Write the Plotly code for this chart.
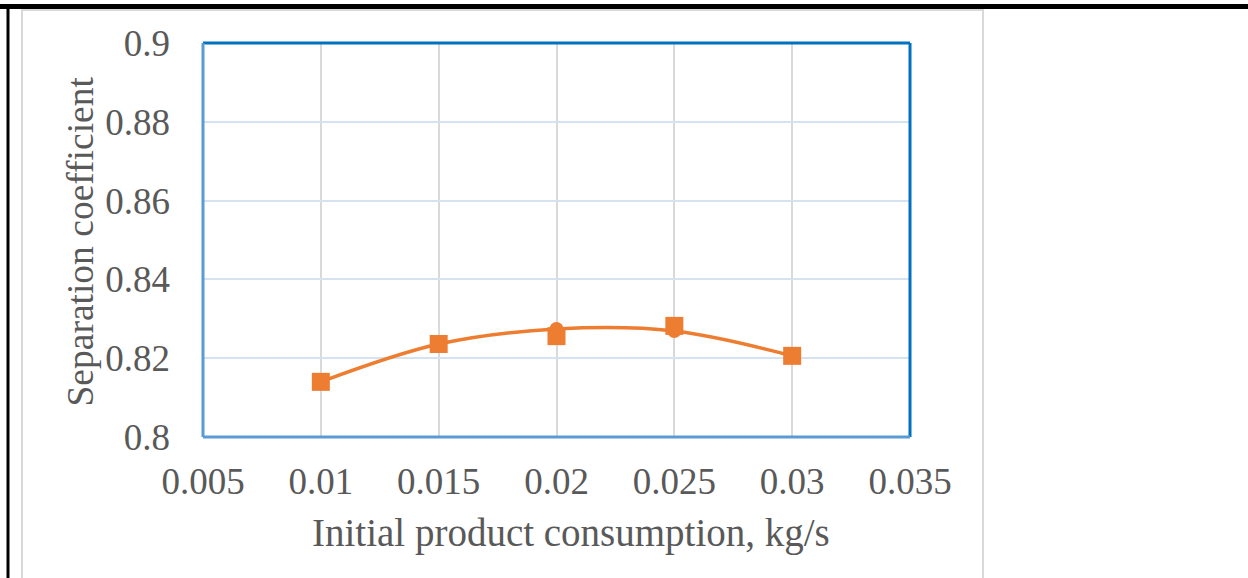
import plotly.graph_objects as go

# Data
consumption = [0.01, 0.015, 0.02, 0.025, 0.03]
coef_fit = [0.8140, 0.8236, 0.8274, 0.8269, 0.8206]
coef_measured = [0.8140, 0.8236, 0.8256, 0.8282, 0.8206]
x_ticks = [0.005, 0.01, 0.015, 0.02, 0.025, 0.03, 0.035]
x_tick_labels = ["0.005", "0.01", "0.015", "0.02", "0.025", "0.03", "0.035"]
y_ticks = [0.8, 0.82, 0.84, 0.86, 0.88, 0.9]
y_tick_labels = ["0.8", "0.82", "0.84", "0.86", "0.88", "0.9"]
x_title = "Initial product consumption, kg/s"
y_title = "Separation coefficient"

W, H = 1248, 578
L, R, T, B = 203, 910, 43, 437
PW, PH = R - L, B - T

def px(x):
    return (x - L) / PW

def py(y):
    return (B - y) / PH

ORANGE = "#ED7D31"
FONT = "Liberation Serif, Times New Roman, serif"
GRAY = "#595959"

fig = go.Figure()
fig.add_trace(go.Scatter(
    x=consumption, y=coef_fit, mode="lines+markers",
    line=dict(color=ORANGE, width=3.5, shape="spline", smoothing=1.0),
    marker=dict(symbol="circle", size=14, color=ORANGE),
    showlegend=False, hoverinfo="x+y"))
fig.add_trace(go.Scatter(
    x=consumption, y=coef_measured, mode="markers",
    marker=dict(symbol="square", size=18, color=ORANGE),
    showlegend=False, hoverinfo="x+y"))

shapes = [
    # outer chart frame (light gray)
    dict(type="rect", xref="paper", yref="paper", x0=px(22), x1=px(983), y0=py(600), y1=py(10),
         line=dict(color="#D9D9D9", width=2), fillcolor="rgba(0,0,0,0)", layer="below"),
    # document table borders (black)
    dict(type="line", xref="paper", yref="paper", x0=px(0), x1=px(W), y0=py(6.5), y1=py(6.5),
         line=dict(color="black", width=5)),
    dict(type="line", xref="paper", yref="paper", x0=px(8), x1=px(8), y0=py(600), y1=py(6),
         line=dict(color="black", width=3)),
    # plot-area border
    dict(type="line", xref="paper", yref="paper", x0=0, x1=1, y0=1, y1=1,
         line=dict(color="#0070C0", width=3)),
    dict(type="line", xref="paper", yref="paper", x0=1, x1=1, y0=0, y1=1,
         line=dict(color="#0070C0", width=3)),
    dict(type="line", xref="paper", yref="paper", x0=0, x1=0, y0=0, y1=1,
         line=dict(color="#5B9BD5", width=3)),
    dict(type="line", xref="paper", yref="paper", x0=0, x1=1, y0=0, y1=0,
         line=dict(color="#5B9BD5", width=3)),
]

annotations = [
    dict(text=x_title, xref="paper", yref="paper", x=px(571), y=py(533),
         xanchor="center", yanchor="middle", showarrow=False,
         font=dict(family=FONT, size=39, color=GRAY)),
    dict(text=y_title, xref="paper", yref="paper", x=px(80), y=py(241.5),
         xanchor="center", yanchor="middle", showarrow=False, textangle=-90,
         font=dict(family=FONT, size=37.5, color=GRAY)),
]

fig.update_layout(
    width=W, height=H,
    margin=dict(l=L, r=W - R, t=T, b=H - B, autoexpand=False),
    paper_bgcolor="white", plot_bgcolor="white",
    font=dict(family=FONT, color=GRAY, size=37),
    shapes=shapes,
    annotations=annotations,
    xaxis=dict(
        range=[0.005, 0.035], tickvals=x_ticks, ticktext=x_tick_labels,
        showgrid=True, gridcolor="#D9D9D9", gridwidth=2,
        zeroline=False, showline=False, ticks="",
        ticklabelstandoff=19,
        tickfont=dict(family=FONT, size=37, color=GRAY),
    ),
    yaxis=dict(
        range=[0.8, 0.9], tickvals=y_ticks, ticktext=y_tick_labels,
        showgrid=True, gridcolor="#D5E3F0", gridwidth=2,
        zeroline=False, showline=False, ticks="",
        ticklabelstandoff=32,
        tickfont=dict(family=FONT, size=37, color=GRAY),
    ),
)

fig.write_html("out.html", config={"displayModeBar": False},
               post_script="document.body.style.margin='0px';document.body.style.overflow='hidden';")
